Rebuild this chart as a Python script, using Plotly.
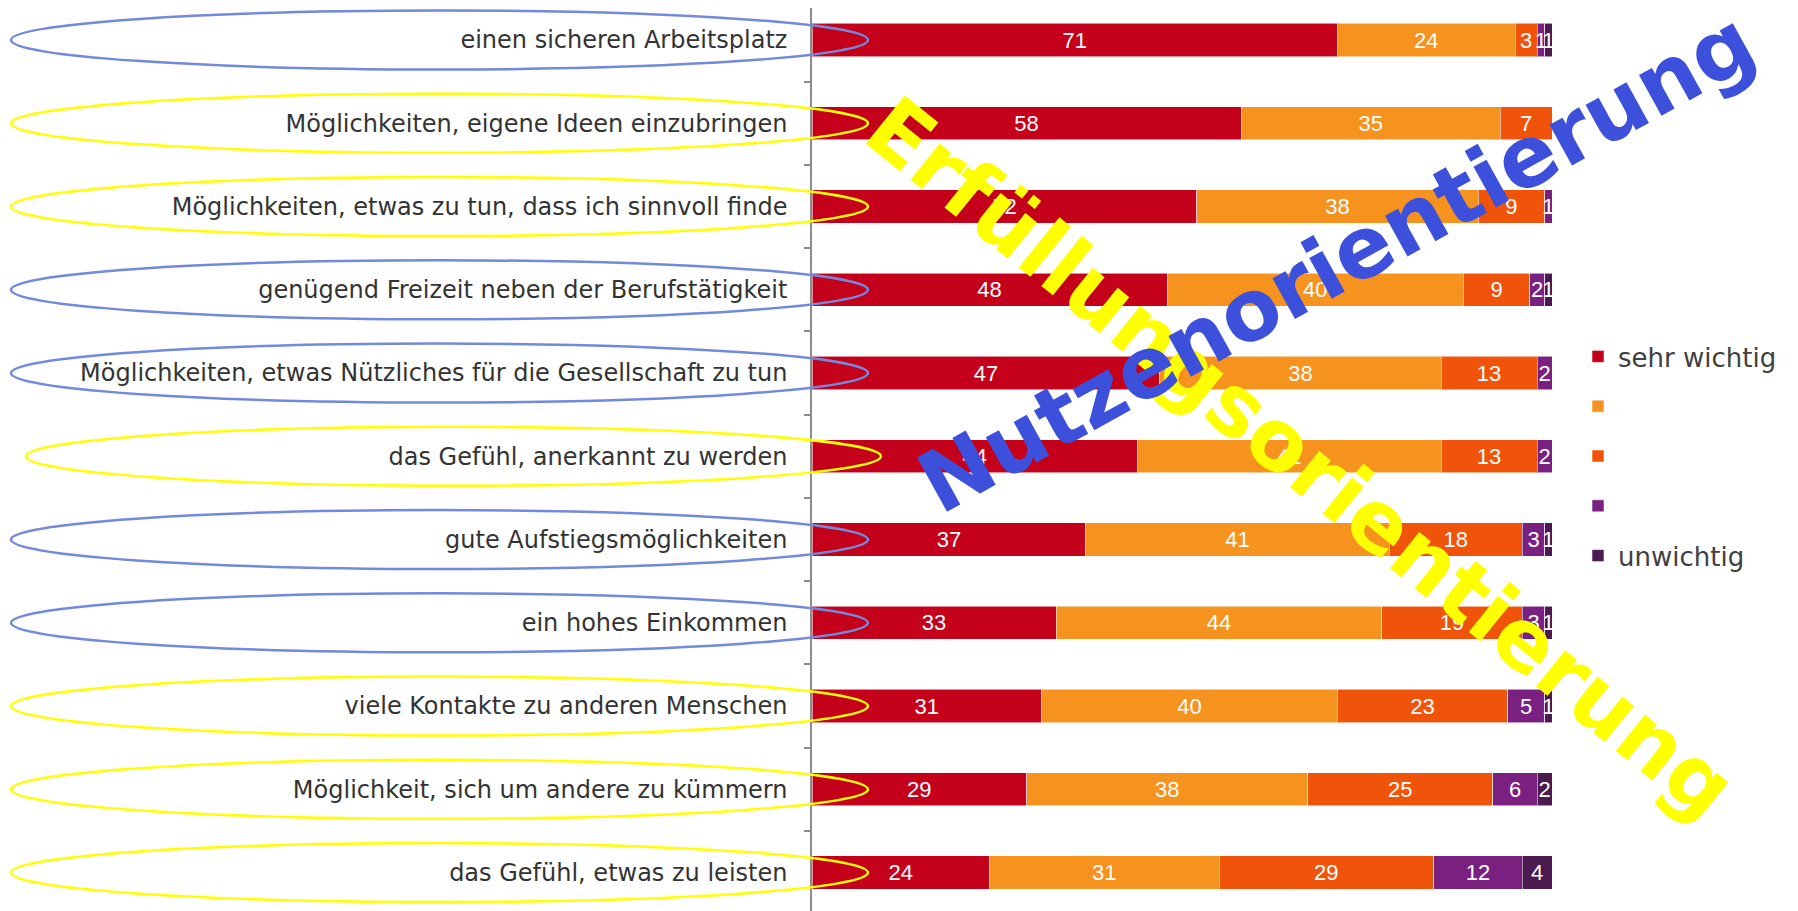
import plotly.graph_objects as go

categories = [
    "einen sicheren Arbeitsplatz",
    "Möglichkeiten, eigene Ideen einzubringen",
    "Möglichkeiten, etwas zu tun, dass ich sinnvoll finde",
    "genügend Freizeit neben der Berufstätigkeit",
    "Möglichkeiten, etwas Nützliches für die Gesellschaft zu tun",
    "das Gefühl, anerkannt zu werden",
    "gute Aufstiegsmöglichkeiten",
    "ein hohes Einkommen",
    "viele Kontakte zu anderen Menschen",
    "Möglichkeit, sich um andere zu kümmern",
    "das Gefühl, etwas zu leisten",
]
sehr_wichtig = [71, 58, 52, 48, 47, 44, 37, 33, 31, 29, 24]
stufe_2 = [24, 35, 38, 40, 38, 41, 41, 44, 40, 38, 31]
stufe_3 = [3, 7, 9, 9, 13, 13, 18, 19, 23, 25, 29]
stufe_4 = [1, 0, 1, 2, 2, 2, 3, 3, 5, 6, 12]
unwichtig = [1, 0, 0, 1, 0, 0, 1, 1, 1, 2, 4]
series_names = ["sehr wichtig", " ", " ", " ", "unwichtig"]
# N = Nutzenorientierung (blue ring), E = Erfüllungsorientierung (yellow ring)
orientation = ["N", "E", "E", "N", "N", "E", "N", "N", "E", "E", "E"]
overlay_texts = ["Erfüllungsorientierung", "Nutzenorientierung"]

series = [sehr_wichtig, stufe_2, stufe_3, stufe_4, unwichtig]
colors = ["#C4001A", "#F6921E", "#F0540A", "#7A2080", "#4B1B4F"]

OFF = 8  # page body margin
W, H = 1798 - OFF, 911 - OFF
ML, MR, MT, MB = 812 - OFF, 246, 0, 0
plot_w = W - ML - MR
plot_h = H - MT - MB

# vertical layout of the category rows (figure pixels)
row0_px = 40 - OFF
row_step = (872.6 - 40) / (len(categories) - 1)
y_top = -row0_px / row_step
y_bot = (len(categories) - 1) + (plot_h - (row0_px + (len(categories) - 1) * row_step)) / row_step


def px_x(page_x):
    return (page_x - OFF - ML) / plot_w


def px_y(page_y):
    return 1 - (page_y - OFF - MT) / plot_h


fig = go.Figure()
for i, (vals, name, col) in enumerate(zip(series, series_names, colors)):
    fig.add_trace(go.Bar(
        y=categories, x=vals, name=name, orientation="h",
        marker=dict(color=col, line=dict(color="rgba(255,255,255,0.55)", width=1)),
        text=vals, texttemplate="%{x}", textposition="inside",
        insidetextanchor="middle", constraintext="none", textangle=0,
        textfont=dict(family="Liberation Sans", size=22, color="white"),
        legendgroup="g%d" % i, hoverinfo="skip",
    ))

shapes = []
for idx, o in enumerate(orientation):
    cy = 40 + idx * row_step  # page px
    half = 29.5
    if idx == 5:
        x0px, x1px = 26, 881
    else:
        x0px, x1px = 11, 868
    shapes.append(dict(
        type="circle", xref="paper", yref="paper", layer="above",
        x0=px_x(x0px), x1=px_x(x1px),
        y0=px_y(cy + half), y1=px_y(cy - half),
        line=dict(color="#7389DE" if o == "N" else "#FFFF00", width=2.5),
    ))

annotations = [
    dict(text=overlay_texts[0], xref="paper", yref="paper",
         x=px_x(1300), y=px_y(458),
         xanchor="center", yanchor="middle", textangle=39, showarrow=False,
         font=dict(family="DejaVu Sans", size=85, color="#FFFF00", weight="bold")),
    dict(text=overlay_texts[1], xref="paper", yref="paper",
         x=px_x(1336), y=px_y(262),
         xanchor="center", yanchor="middle", textangle=-29, showarrow=False,
         font=dict(family="DejaVu Sans", size=85, color="#3C50DC", weight="bold")),
]

fig.update_layout(
    width=W, height=H,
    margin=dict(l=ML, r=MR, t=MT, b=MB, pad=0),
    barmode="stack", bargap=0.6,
    plot_bgcolor="white", paper_bgcolor="white",
    xaxis=dict(range=[0, 100], visible=False),
    yaxis=dict(type="category", range=[y_bot, y_top], showline=True,
               linecolor="#8C8C8C", linewidth=1.5, ticks="outside",
               tickson="boundaries", ticklen=6, tickcolor="#8C8C8C",
               tickwidth=1.5, showgrid=False, zeroline=False,
               ticklabelstandoff=18,
               tickfont=dict(family="DejaVu Sans", size=24, color="#333333")),
    legend=dict(orientation="v", x=px_x(1578), xanchor="left",
                y=px_y(333), yanchor="top",
                traceorder="grouped", tracegroupgap=13, itemwidth=30,
                font=dict(family="DejaVu Sans", size=26, color="#404040"),
                bgcolor="rgba(0,0,0,0)"),
    shapes=shapes, annotations=annotations,
    showlegend=True,
)

fig.write_html("out.html")
